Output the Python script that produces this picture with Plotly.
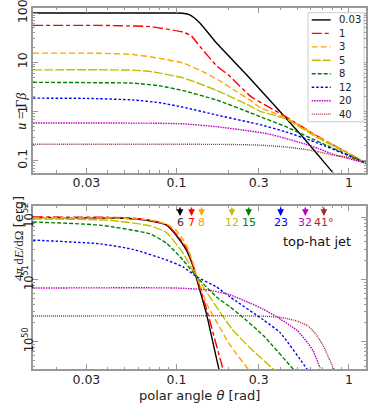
import numpy as np
import plotly.graph_objects as go

# legend labels (time) and matching jet opening angles [deg]
times = ["0.03", "1", "3", "5", "8", "12", "20", "40"]
jet_deg = [6, 7, 8, 12, 15, 23, 32, 41]
jet_lbl = ["6", "7", "8", "12", "15", "23", "32", "41°"]

# top panel: u = Gamma*beta vs polar angle
th_u_003 = [0.0147, 0.1, 0.109, 0.1195, 0.1365, 0.1706, 0.266, 0.52, 0.811, 0.9]
u_003 = [100, 100, 99, 92, 63, 24.5, 4.74, 0.35, 0.056, 0.037]
th_u_1 = [0.0147, 0.036, 0.07, 0.0915, 0.109, 0.122, 0.1365, 0.1706, 0.2, 0.27, 0.34, 0.425, 0.66, 1.0, 1.27]
u_1 = [56, 56, 53, 46, 41, 34, 21, 8.5, 5.5, 2.0, 1.25, 0.8, 0.31, 0.14, 0.087]
th_u_3 = [0.0147, 0.036, 0.056, 0.08, 0.109, 0.14, 0.174, 0.22, 0.266, 0.305, 0.425, 0.66, 1.0, 1.27]
u_3 = [15.3, 15.2, 14.3, 12, 9.6, 6.6, 4.4, 2.6, 1.71, 1.2, 0.76, 0.31, 0.14, 0.087]
th_u_5 = [0.0147, 0.04, 0.056, 0.07, 0.08, 0.109, 0.12, 0.17, 0.266, 0.305, 0.425, 0.66, 1.0, 1.27]
u_5 = [7.0, 7.0, 6.9, 6.5, 6.0, 4.8, 4.3, 2.7, 1.3, 1.0, 0.72, 0.29, 0.135, 0.087]
th_u_8 = [0.0147, 0.03, 0.056, 0.08, 0.109, 0.17, 0.266, 0.305, 0.425, 0.66, 1.0, 1.27]
u_8 = [3.9, 3.85, 3.75, 3.3, 2.65, 1.71, 0.95, 0.78, 0.5, 0.245, 0.128, 0.087]
th_u_12 = [0.0147, 0.03, 0.056, 0.08, 0.109, 0.17, 0.266, 0.305, 0.425, 0.66, 1.0, 1.27]
u_12 = [1.86, 1.84, 1.71, 1.5, 1.22, 0.85, 0.6, 0.54, 0.39, 0.227, 0.125, 0.087]
th_u_20 = [0.0147, 0.07, 0.109, 0.17, 0.266, 0.34, 0.425, 0.55, 0.66, 0.83, 1.0, 1.27]
u_20 = [0.58, 0.577, 0.56, 0.49, 0.40, 0.35, 0.285, 0.22, 0.178, 0.13, 0.11, 0.087]
th_u_40 = [0.0147, 0.1, 0.2, 0.3, 0.425, 0.55, 0.66, 0.8, 0.95, 1.1, 1.27]
u_40 = [0.215, 0.215, 0.213, 0.207, 0.19, 0.17, 0.152, 0.13, 0.12, 0.105, 0.093]

# bottom panel: log10(4pi dE/dOmega [erg]) vs polar angle
th_e_003 = [0.0147, 0.05, 0.07, 0.0875, 0.1, 0.114, 0.125, 0.131, 0.149, 0.178, 0.19]
loge_003 = [51.99, 51.98, 51.94, 51.87, 51.70, 51.47, 51.2, 51.0, 50.45, 49.5, 49.2]
th_e_1 = [0.0147, 0.05, 0.07, 0.0875, 0.1, 0.114, 0.125, 0.131, 0.15, 0.186, 0.2]
loge_1 = [52.0, 51.99, 51.95, 51.88, 51.72, 51.5, 51.22, 51.03, 50.5, 49.56, 49.3]
th_e_3 = [0.0147, 0.05, 0.07, 0.09, 0.1, 0.114, 0.125, 0.131, 0.15, 0.1706, 0.2036, 0.26, 0.28]
loge_3 = [51.99, 51.98, 51.95, 51.87, 51.78, 51.55, 51.25, 51.05, 50.6, 50.32, 49.95, 49.56, 49.45]
th_e_5 = [0.0147, 0.04, 0.07, 0.0875, 0.109, 0.131, 0.17, 0.21, 0.266, 0.364, 0.4]
loge_5 = [51.97, 51.95, 51.86, 51.75, 51.42, 51.04, 50.56, 50.2, 49.9, 49.56, 49.45]
th_e_8 = [0.0147, 0.036, 0.07, 0.0875, 0.109, 0.131, 0.17, 0.2036, 0.233, 0.318, 0.475, 0.52]
loge_8 = [51.92, 51.87, 51.73, 51.58, 51.31, 51.04, 50.72, 50.56, 50.43, 50.1, 49.56, 49.45]
th_e_12 = [0.0147, 0.036, 0.056, 0.0875, 0.109, 0.131, 0.17, 0.2036, 0.318, 0.4, 0.57, 0.62]
loge_12 = [51.63, 51.57, 51.48, 51.31, 51.2, 51.04, 50.88, 50.72, 50.35, 50.14, 49.56, 49.4]
th_e_20 = [0.0147, 0.1, 0.15, 0.2, 0.266, 0.318, 0.38, 0.5, 0.58, 0.62, 0.68, 0.72]
loge_20 = [50.86, 50.86, 50.83, 50.76, 50.62, 50.52, 50.4, 50.18, 49.97, 49.85, 49.58, 49.4]
th_e_40 = [0.0147, 0.3, 0.4, 0.5, 0.58, 0.65, 0.71, 0.76, 0.82, 0.85]
loge_40 = [50.41, 50.41, 50.39, 50.33, 50.25, 50.1, 49.93, 49.75, 49.55, 49.4]

th_u = [th_u_003, th_u_1, th_u_3, th_u_5, th_u_8, th_u_12, th_u_20, th_u_40]
uu = [u_003, u_1, u_3, u_5, u_8, u_12, u_20, u_40]
th_e = [th_e_003, th_e_1, th_e_3, th_e_5, th_e_8, th_e_12, th_e_20, th_e_40]
loge = [loge_003, loge_1, loge_3, loge_5, loge_8, loge_12, loge_20, loge_40]

colors = ["#000000", "#ff0000", "#ffa500", "#bfbf00", "#008000", "#0000ff", "#bf00bf", "#a52a2a"]
dashes = ["solid", "10px,3px,4px,3px", "6px,3px", "9px,2px", "4px,2px", "2.5px,2px", "1.5px,1px", "1px,1px"]

fig = go.Figure()
for i in range(len(times)):
    fig.add_trace(go.Scatter(x=th_u[i], y=uu[i], mode="lines", xaxis="x", yaxis="y",
                             line=dict(color=colors[i], dash=dashes[i], width=1.4, shape="spline", smoothing=0.5),
                             showlegend=False, hoverinfo="skip"))
for i in range(len(times)):
    fig.add_trace(go.Scatter(x=th_e[i], y=10 ** np.array(loge[i]), mode="lines", xaxis="x2", yaxis="y2",
                             line=dict(color=colors[i], dash=dashes[i], width=1.4, shape="spline", smoothing=0.5),
                             showlegend=False, hoverinfo="skip"))

axc = "#999999"
tickfont = dict(family="DejaVu Sans", size=12.5, color="#222222")
common = dict(type="log", showgrid=False, zeroline=False, showline=True, linecolor=axc, linewidth=1.5,
              mirror="allticks", ticks="inside", ticklen=5, tickcolor=axc, tickwidth=1,
              tickfont=tickfont, automargin=False, ticklabeloverflow="allow",
              minor=dict(ticks="inside", ticklen=2.5, tickcolor=axc, dtick="D1", showgrid=False))
xr = [np.log10(0.0147), np.log10(1.256)]
xt = [0.03, 0.1, 0.3, 1]
xtt = ["0.03", "0.1", "0.3", "1"]

fig.update_layout(
    width=374, height=403,
    margin=dict(l=33, r=8, t=8, b=34, autoexpand=False),
    paper_bgcolor="white", plot_bgcolor="white",
    xaxis=dict(common, domain=[0, 1], range=xr, tickmode="array", tickvals=xt, ticktext=xtt, anchor="y",
               ticklabelstandoff=-2),
    yaxis=dict(common, domain=[0.544, 1], range=[-1.244, 2.102], tickmode="array",
               tickvals=[0.1, 1, 10, 100], ticktext=["0.1", "1", "10", "100"], tickangle=-90, anchor="x",
               ticklabelstandoff=-1),
    xaxis2=dict(common, domain=[0, 1], range=xr, tickmode="array", tickvals=xt, ticktext=xtt, anchor="y2",
                ticklabelstandoff=-2),
    yaxis2=dict(common, domain=[0, 0.452], range=[49.56, 52.18], tickmode="array",
                tickvals=[1e50, 1e51, 1e52], ticktext=["10<sup>50</sup>", "10<sup>51</sup>", "10<sup>52</sup>"],
                tickangle=-90, anchor="x2", ticklabelstandoff=-6,
                tickfont=dict(family="DejaVu Sans", size=11.5, color="#222222")),
)

anns = []
# axis titles
anns.append(dict(text="<i>u</i> = Γ<i>β</i>", xref="paper", yref="paper", x=-0.064, y=0.77,
                 textangle=-90, showarrow=False, font=dict(family="Liberation Serif", size=14, color="#222222")))
anns.append(dict(text="4<i>π</i> d<i>E</i>/dΩ <span style='font-family:DejaVu Sans'>[erg]</span>",
                 xref="paper", yref="paper", x=-0.072, y=0.238,
                 textangle=-90, showarrow=False, font=dict(family="Liberation Serif", size=13, color="#222222")))
anns.append(dict(text="polar angle <i>θ</i> [rad]", xref="paper", yref="paper", x=0.5, y=-0.074,
                 yanchor="middle", showarrow=False, font=dict(family="DejaVu Sans", size=13, color="#222222")))
anns.append(dict(text="top-hat jet", xref="x2 domain", yref="y2 domain", x=0.96, y=0.78,
                 xanchor="right", yanchor="middle", showarrow=False,
                 font=dict(family="DejaVu Sans", size=13, color="#111111")))
# jet opening angle arrows
for i, d in enumerate(jet_deg):
    xa = np.log10(np.radians(d))
    anns.append(dict(text="", x=xa, xref="x2", y=0.9375, yref="y2 domain", ax=0, ay=-10,
                     showarrow=True, arrowhead=2, arrowsize=0.9, arrowwidth=1.5, arrowcolor=colors[i]))
    anns.append(dict(text=jet_lbl[i], x=xa, xref="x2", y=0.898, yref="y2 domain", showarrow=False,
                     yanchor="middle", font=dict(family="DejaVu Sans", size=11, color=colors[i] if i else "#333333")))

# legend (drawn by hand to match the compact matplotlib legend)
shapes = [dict(type="rect", xref="paper", yref="paper", x0=0.826, x1=0.994, y0=0.685, y1=0.987,
               fillcolor="white", line=dict(color="#cccccc", width=1), layer="above")]
for i in range(len(times)):
    yy = 0.967 - i * 0.0373
    shapes.append(dict(type="line", xref="paper", yref="paper", x0=0.837, x1=0.894, y0=yy, y1=yy,
                       line=dict(color=colors[i], dash=dashes[i], width=1.4), layer="above"))
    anns.append(dict(text=times[i], xref="paper", yref="paper", x=0.913, y=yy, xanchor="left",
                     yanchor="middle", showarrow=False, font=dict(family="DejaVu Sans", size=10, color="#222222")))

fig.update_layout(annotations=anns, shapes=shapes, hovermode=False)
# drop the default 8px page margin so the figure sits at the window corner
fig.write_html("out.html", config={"displayModeBar": False},
               post_script="document.body.style.margin='0';")
